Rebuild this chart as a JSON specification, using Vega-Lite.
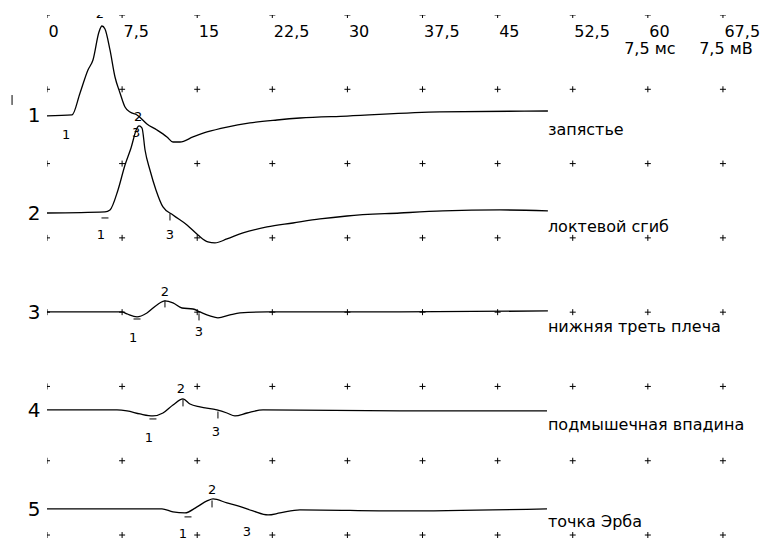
{
  "$schema": "https://vega.github.io/schema/vega-lite/v6.json",
  "autosize": {"type": "none"},
  "width": 718,
  "height": 523,
  "padding": {"left": 47, "top": 15, "right": 0, "bottom": 0},
  "background": "white",
  "config": {"view": {"stroke": null}, "font": "DejaVu Sans"},
  "datasets": {
    "grid": [
      {"t":0,"v":0},{"t":7.5,"v":0},{"t":15,"v":0},{"t":22.5,"v":0},{"t":30,"v":0},{"t":37.5,"v":0},{"t":45,"v":0},{"t":52.5,"v":0},{"t":60,"v":0},{"t":67.5,"v":0},
      {"t":0,"v":-7.5},{"t":7.5,"v":-7.5},{"t":15,"v":-7.5},{"t":22.5,"v":-7.5},{"t":30,"v":-7.5},{"t":37.5,"v":-7.5},{"t":45,"v":-7.5},{"t":52.5,"v":-7.5},{"t":60,"v":-7.5},{"t":67.5,"v":-7.5},
      {"t":0,"v":-15},{"t":7.5,"v":-15},{"t":15,"v":-15},{"t":22.5,"v":-15},{"t":30,"v":-15},{"t":37.5,"v":-15},{"t":45,"v":-15},{"t":52.5,"v":-15},{"t":60,"v":-15},{"t":67.5,"v":-15},
      {"t":0,"v":-22.5},{"t":7.5,"v":-22.5},{"t":15,"v":-22.5},{"t":22.5,"v":-22.5},{"t":30,"v":-22.5},{"t":37.5,"v":-22.5},{"t":45,"v":-22.5},{"t":52.5,"v":-22.5},{"t":60,"v":-22.5},{"t":67.5,"v":-22.5},
      {"t":0,"v":-30},{"t":7.5,"v":-30},{"t":15,"v":-30},{"t":22.5,"v":-30},{"t":30,"v":-30},{"t":37.5,"v":-30},{"t":45,"v":-30},{"t":52.5,"v":-30},{"t":60,"v":-30},{"t":67.5,"v":-30},
      {"t":0,"v":-37.5},{"t":7.5,"v":-37.5},{"t":15,"v":-37.5},{"t":22.5,"v":-37.5},{"t":30,"v":-37.5},{"t":37.5,"v":-37.5},{"t":45,"v":-37.5},{"t":52.5,"v":-37.5},{"t":60,"v":-37.5},{"t":67.5,"v":-37.5},
      {"t":0,"v":-45},{"t":7.5,"v":-45},{"t":15,"v":-45},{"t":22.5,"v":-45},{"t":30,"v":-45},{"t":37.5,"v":-45},{"t":45,"v":-45},{"t":52.5,"v":-45},{"t":60,"v":-45},{"t":67.5,"v":-45},
      {"t":0,"v":-52.5},{"t":7.5,"v":-52.5},{"t":15,"v":-52.5},{"t":22.5,"v":-52.5},{"t":30,"v":-52.5},{"t":37.5,"v":-52.5},{"t":45,"v":-52.5},{"t":52.5,"v":-52.5},{"t":60,"v":-52.5},{"t":67.5,"v":-52.5}
    ],
    "traces": [
      {"trace":1,"t":0,"v":-10.19},{"trace":1,"t":2.5,"v":-10.09},{"trace":1,"t":3.3,"v":-7.87},{"trace":1,"t":4.09,"v":-5.55},{"trace":1,"t":4.59,"v":-4.54},{"trace":1,"t":5.19,"v":-1.71},{"trace":1,"t":5.49,"v":-1.11},{"trace":1,"t":5.79,"v":-1.41},{"trace":1,"t":6.29,"v":-3.53},{"trace":1,"t":6.79,"v":-6.26},{"trace":1,"t":7.29,"v":-7.87},{"trace":1,"t":7.79,"v":-9.29},{"trace":1,"t":8.29,"v":-9.79},{"trace":1,"t":8.99,"v":-10.09},{"trace":1,"t":9.98,"v":-11.0},{"trace":1,"t":10.98,"v":-11.61},{"trace":1,"t":11.98,"v":-12.31},{"trace":1,"t":12.58,"v":-12.82},{"trace":1,"t":13.28,"v":-12.82},{"trace":1,"t":14.58,"v":-12.31},{"trace":1,"t":15.98,"v":-11.81},{"trace":1,"t":17.97,"v":-11.31},{"trace":1,"t":20.27,"v":-10.9},{"trace":1,"t":22.97,"v":-10.6},{"trace":1,"t":25.26,"v":-10.4},{"trace":1,"t":29.96,"v":-10.2},{"trace":1,"t":39.24,"v":-9.79},{"trace":1,"t":50.02,"v":-9.69},
      {"trace":2,"t":0,"v":-19.99},{"trace":2,"t":5.79,"v":-19.88},{"trace":2,"t":6.29,"v":-19.68},{"trace":2,"t":7.09,"v":-17.66},{"trace":2,"t":7.79,"v":-15.14},{"trace":2,"t":8.39,"v":-13.42},{"trace":2,"t":8.99,"v":-11.41},{"trace":2,"t":9.19,"v":-11.2},{"trace":2,"t":9.49,"v":-11.41},{"trace":2,"t":9.79,"v":-13.63},{"trace":2,"t":10.28,"v":-15.65},{"trace":2,"t":10.88,"v":-17.66},{"trace":2,"t":11.58,"v":-19.38},{"trace":2,"t":12.58,"v":-20.19},{"trace":2,"t":13.98,"v":-21.2},{"trace":2,"t":15.08,"v":-22.21},{"trace":2,"t":16.07,"v":-22.91},{"trace":2,"t":16.77,"v":-23.01},{"trace":2,"t":17.97,"v":-22.61},{"trace":2,"t":19.57,"v":-22.0},{"trace":2,"t":21.97,"v":-21.4},{"trace":2,"t":24.56,"v":-21.0},{"trace":2,"t":27.26,"v":-20.59},{"trace":2,"t":29.96,"v":-20.29},{"trace":2,"t":35.25,"v":-19.99},{"trace":2,"t":39.54,"v":-19.78},{"trace":2,"t":45.23,"v":-19.68},{"trace":2,"t":50.02,"v":-19.78},
      {"trace":3,"t":0,"v":-29.98},{"trace":3,"t":7.49,"v":-29.98},{"trace":3,"t":7.99,"v":-30.18},{"trace":3,"t":8.99,"v":-30.48},{"trace":3,"t":9.98,"v":-30.08},{"trace":3,"t":10.98,"v":-29.27},{"trace":3,"t":11.78,"v":-28.87},{"trace":3,"t":12.58,"v":-29.07},{"trace":3,"t":13.48,"v":-29.58},{"trace":3,"t":14.58,"v":-29.68},{"trace":3,"t":15.28,"v":-29.98},{"trace":3,"t":16.27,"v":-30.38},{"trace":3,"t":17.07,"v":-30.58},{"trace":3,"t":18.27,"v":-30.28},{"trace":3,"t":19.27,"v":-30.08},{"trace":3,"t":21.97,"v":-29.98},{"trace":3,"t":35.25,"v":-29.98},{"trace":3,"t":50.02,"v":-29.88},
      {"trace":4,"t":0,"v":-39.87},{"trace":4,"t":6.99,"v":-39.87},{"trace":4,"t":7.99,"v":-39.97},{"trace":4,"t":9.29,"v":-40.28},{"trace":4,"t":10.58,"v":-40.48},{"trace":4,"t":11.58,"v":-40.18},{"trace":4,"t":12.58,"v":-39.37},{"trace":4,"t":13.58,"v":-38.76},{"trace":4,"t":14.28,"v":-39.27},{"trace":4,"t":15.28,"v":-39.57},{"trace":4,"t":16.97,"v":-39.87},{"trace":4,"t":17.97,"v":-40.18},{"trace":4,"t":18.77,"v":-40.48},{"trace":4,"t":19.97,"v":-40.18},{"trace":4,"t":21.57,"v":-39.87},{"trace":4,"t":35.25,"v":-39.97},{"trace":4,"t":49.93,"v":-39.97},
      {"trace":5,"t":0,"v":-49.86},{"trace":5,"t":11.48,"v":-49.86},{"trace":5,"t":12.58,"v":-50.17},{"trace":5,"t":13.78,"v":-50.27},{"trace":5,"t":14.98,"v":-49.66},{"trace":5,"t":15.98,"v":-49.06},{"trace":5,"t":16.58,"v":-48.85},{"trace":5,"t":17.97,"v":-49.26},{"trace":5,"t":19.07,"v":-49.56},{"trace":5,"t":20.57,"v":-50.07},{"trace":5,"t":22.07,"v":-50.47},{"trace":5,"t":23.27,"v":-50.27},{"trace":5,"t":25.26,"v":-49.96},{"trace":5,"t":35.25,"v":-50.07},{"trace":5,"t":49.93,"v":-49.86}
    ],
    "markers": [
      {"trace":1,"label":"1","t":1.9,"v":-12.11},
      {"trace":1,"label":"2","t":5.29,"v":0.1},
      {"trace":1,"label":"3","t":8.89,"v":-11.91},
      {"trace":2,"label":"1","t":5.39,"v":-22.21},
      {"trace":2,"label":"2","t":9.09,"v":-10.3},
      {"trace":2,"label":"3","t":12.28,"v":-22.21},
      {"trace":3,"label":"1","t":8.59,"v":-32.6},
      {"trace":3,"label":"2","t":11.78,"v":-27.96},
      {"trace":3,"label":"3","t":15.18,"v":-32.0},
      {"trace":4,"label":"1","t":10.18,"v":-42.7},
      {"trace":4,"label":"2","t":13.38,"v":-37.75},
      {"trace":4,"label":"3","t":16.87,"v":-42.09},
      {"trace":5,"label":"1","t":13.58,"v":-52.39},
      {"trace":5,"label":"2","t":16.48,"v":-47.95},
      {"trace":5,"label":"3","t":19.97,"v":-52.19}
    ],
    "ticks": [
      {"trace":2,"kind":"h","t":5.79,"v":-20.49},
      {"trace":2,"kind":"v","t":12.28,"v":-20.39},
      {"trace":3,"kind":"h","t":8.99,"v":-30.69},
      {"trace":3,"kind":"v","t":11.78,"v":-29.17},
      {"trace":3,"kind":"v","t":15.18,"v":-30.48},
      {"trace":4,"kind":"h","t":10.58,"v":-40.78},
      {"trace":4,"kind":"v","t":13.58,"v":-39.16},
      {"trace":4,"kind":"v","t":17.07,"v":-40.38},
      {"trace":5,"kind":"h","t":14.08,"v":-50.67},
      {"trace":5,"kind":"v","t":16.48,"v":-49.36}
    ],
    "names": [
      {"name":"запястье","t":50.02,"v":-11.61},
      {"name":"локтевой сгиб","t":50.02,"v":-21.4},
      {"name":"нижняя треть плеча","t":50.02,"v":-31.49},
      {"name":"подмышечная впадина","t":50.02,"v":-41.39},
      {"name":"точка Эрба","t":50.02,"v":-51.18}
    ],
    "scale": [
      {"text":"7,5 мс","t":60.2,"v":-3.43},
      {"text":"7,5 мВ","t":67.8,"v":-3.43}
    ],
    "mark": [
      {"t":-3.49,"v":-8.08,"v2":-9.08}
    ]
  },
  "encoding": {
    "x": {"field":"t","type":"quantitative","scale":{"domain":[0,71.7],"nice":false,"zero":false},
      "axis":{"orient":"top","values":[0,7.5,15,22.5,30,37.5,45,52.5,60,67.5],"labelExpr":"replace('' + datum.value,'.',',')","domain":false,"ticks":false,"tickSize":0,"grid":false,"title":null,"labelAlign":"left","labelBaseline":"middle","labelPadding":0,"offset":-16,"labelOffset":1,"labelFontSize":16,"labelColor":"black","labelFont":"DejaVu Sans","labelFlush":false,"labelOverlap":false,"labelBound":false}},
    "y": {"field":"v","type":"quantitative","scale":{"domain":[-52.8,0],"nice":false,"zero":false},
      "axis":{"orient":"left","values":[-10.1,-20,-30,-39.9,-49.9],"labelExpr":"'' + round(-datum.value/10)","domain":false,"ticks":false,"tickSize":0,"grid":false,"title":null,"labelPadding":7,"labelFontSize":20,"labelColor":"black","labelFont":"DejaVu Sans","labelBaseline":"middle","labelOverlap":false,"labelBound":false,"labelFlush":false}}
  },
  "layer": [
    {"data":{"name":"grid"},"mark":{"type":"point","shape":"M-1,0H1M0,-1V1","size":36,"filled":false,"stroke":"black","strokeWidth":1,"opacity":1,"clip":true}},
    {"data":{"name":"traces"},"mark":{"type":"line","stroke":"black","strokeWidth":1.3,"interpolate":"monotone"},"encoding":{"detail":{"field":"trace","type":"nominal"}}},
    {"data":{"name":"ticks"},"mark":{"type":"point","filled":false,"stroke":"black","strokeWidth":1,"size":49,"opacity":1},"encoding":{"shape":{"field":"kind","type":"nominal","scale":{"domain":["h","v"],"range":["M-1,0H1","M0,-1V1"]},"legend":null}}},
    {"data":{"name":"markers"},"mark":{"type":"text","fontSize":13,"color":"black","font":"DejaVu Sans","align":"center","baseline":"middle","clip":true},"encoding":{"text":{"field":"label","type":"nominal"}}},
    {"data":{"name":"names"},"mark":{"type":"text","fontSize":16,"color":"black","font":"DejaVu Sans","align":"left","baseline":"middle"},"encoding":{"text":{"field":"name","type":"nominal"}}},
    {"data":{"name":"scale"},"mark":{"type":"text","fontSize":16,"color":"black","font":"DejaVu Sans","align":"center","baseline":"middle"},"encoding":{"text":{"field":"text","type":"nominal"}}},
    {"data":{"name":"mark"},"mark":{"type":"rule","stroke":"black","strokeWidth":1},"encoding":{"y2":{"field":"v2"}}}
  ]
}
